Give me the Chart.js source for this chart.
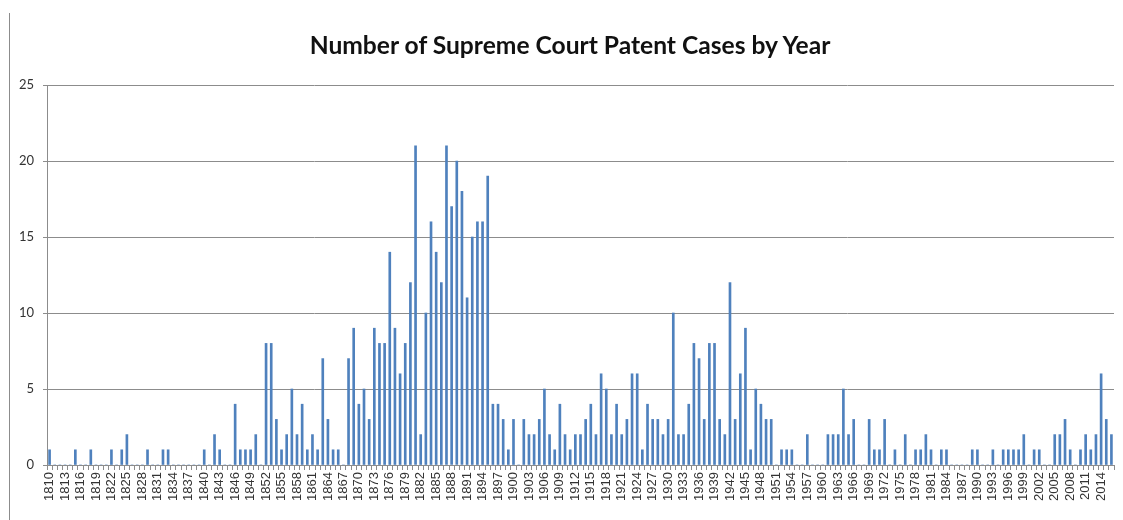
<!DOCTYPE html>
<html>
<head>
<meta charset="utf-8">
<script src="https://cdn.jsdelivr.net/npm/chart.js@4"></script>
<style>
  html, body { margin: 0; padding: 0; background: #fff; }
  #wrap { position: relative; width: 1123px; height: 520px; }
  #frame { position: absolute; left: 9px; top: 13px; bottom: 0; border-left: 1px solid #8c8c8c; }
  #title {
    position: absolute; left: 270px; width: 600px; top: 30px;
    text-align: center; font: bold 24.6px/30px Lato, sans-serif; color: #111;
  }
</style>
</head>
<body>
<div id="wrap">
  <div id="frame"></div>
  <div id="title">Number of Supreme Court Patent Cases by Year</div>
  <canvas id="myChart" width="1123" height="520"></canvas>
</div>
<script>
const ctx = document.getElementById("myChart")

const firstYear = 1810
const lastYear = 2016

const years = []
for (let y = firstYear; y <= lastYear; y++) years.push(String(y))

// cases per year, one row per decade (1810-1819, 1820-1829, ...)
const cases = [
  1, 0, 0, 0, 0, 1, 0, 0, 1, 0,
  0, 0, 1, 0, 1, 2, 0, 0, 0, 1,
  0, 0, 1, 1, 0, 0, 0, 0, 0, 0,
  1, 0, 2, 1, 0, 0, 4, 1, 1, 1,
  2, 0, 8, 8, 3, 1, 2, 5, 2, 4,
  1, 2, 1, 7, 3, 1, 1, 0, 7, 9,
  4, 5, 3, 9, 8, 8, 14, 9, 6, 8,
  12, 21, 2, 10, 16, 14, 12, 21, 17, 20,
  18, 11, 15, 16, 16, 19, 4, 4, 3, 1,
  3, 0, 3, 2, 2, 3, 5, 2, 1, 4,
  2, 1, 2, 2, 3, 4, 2, 6, 5, 2,
  4, 2, 3, 6, 6, 1, 4, 3, 3, 2,
  3, 10, 2, 2, 4, 8, 7, 3, 8, 8,
  3, 2, 12, 3, 6, 9, 1, 5, 4, 3,
  3, 0, 1, 1, 1, 0, 0, 2, 0, 0,
  0, 2, 2, 2, 5, 2, 3, 0, 0, 3,
  1, 1, 3, 0, 1, 0, 2, 0, 1, 1,
  2, 1, 0, 1, 1, 0, 0, 0, 0, 1,
  1, 0, 0, 1, 0, 1, 1, 1, 1, 2,
  0, 1, 1, 0, 0, 2, 2, 3, 1, 0,
  1, 2, 1, 2, 6, 3, 2
]

const yTicks = [0, 5, 10, 15, 20, 25]
const labelEvery = 3

const data = {
  labels: years,
  datasets: [{
    label: "Cases",
    data: cases,
    backgroundColor: '#4F81BD',
    borderWidth: 0,
    barThickness: 2
  }]
}

const config = {
  type: 'bar',
  data: data,
  options: {
    responsive: false,
    animation: false,
    layout: { padding: { left: 0, right: 9, top: 85, bottom: 0 } },
    plugins: {
      legend: { display: false },
      tooltip: { enabled: false },
      title: { display: false }
    },
    scales: {
      x: {
        offset: true,
        grid: { display: true, drawOnChartArea: false, offset: true, tickLength: 5, color: '#8c8c8c' },
        border: { color: '#8c8c8c' },
        ticks: {
          autoSkip: false,
          maxRotation: 90,
          minRotation: 90,
          padding: 2,
          color: '#333',
          font: { family: 'Liberation Sans', size: 13 },
          callback: function (value, index) {
            return index % labelEvery === 0 ? this.getLabelForValue(value) : ''
          }
        },
        afterFit: function (scale) {
          scale.height = 55
          scale.paddingLeft = 0
          scale.paddingRight = 0
        }
      },
      y: {
        min: yTicks[0],
        max: yTicks[yTicks.length - 1],
        afterBuildTicks: function (scale) { scale.ticks = yTicks.map(v => ({ value: v })) },
        grid: { color: '#8c8c8c', tickLength: 4 },
        border: { color: '#8c8c8c' },
        ticks: {
          padding: 9,
          color: '#333',
          font: { family: 'Lato', size: 13 }
        },
        afterFit: function (scale) { scale.width = 47 }
      }
    }
  }
}

const myChart = new Chart(ctx, config)
</script>
</body>
</html>
